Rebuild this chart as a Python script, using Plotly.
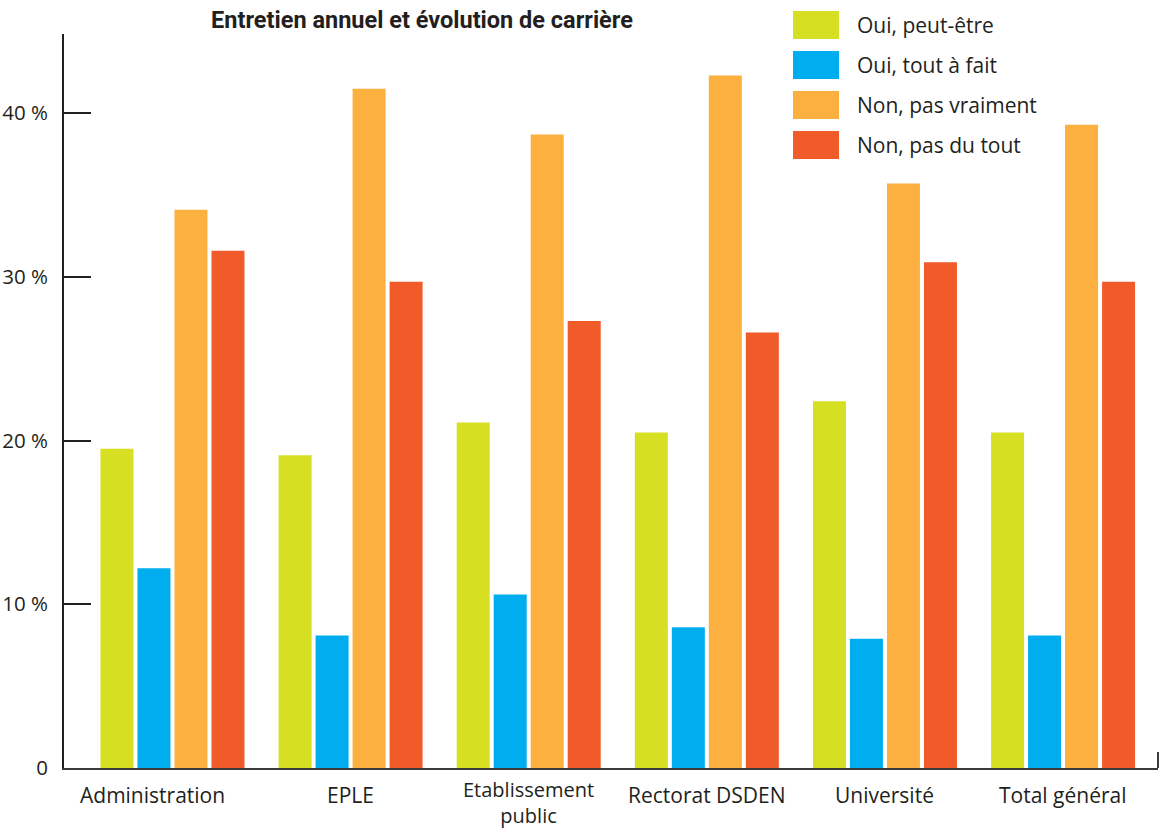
import plotly.graph_objects as go

# Survey answers by employer type (percent of respondents)
categories = ["Administration", "EPLE", "Etablissement public",
              "Rectorat DSDEN", "Université", "Total général"]
category_labels = ["Administration", "EPLE", "Etablissement<br>public",
                   "Rectorat DSDEN", "Université", "Total général"]

series_names = ["Oui, peut-être", "Oui, tout à fait",
                "Non, pas vraiment", "Non, pas du tout"]
oui_peut_etre = [19.5, 19.1, 21.1, 20.5, 22.4, 20.5]
oui_tout_a_fait = [12.2, 8.1, 10.6, 8.6, 7.9, 8.1]
non_pas_vraiment = [34.1, 41.5, 38.7, 42.3, 35.7, 39.3]
non_pas_du_tout = [31.6, 29.7, 27.3, 26.6, 30.9, 29.7]

y_tick_values = [0, 10, 20, 30, 40]
y_tick_labels = ["0", "10 %", "20 %", "30 %", "40 %"]

title_text = "Entretien annuel et évolution de carrière"

colors = ["#D7DF23", "#00AEEF", "#FBB040", "#F15A29"]
ink = "#231F20"
font_family = "Open Sans"

W, H = 1168, 829
M_L, M_R, M_T, M_B = 64, 10, 34, 61
PW, PH = W - M_L - M_R, H - M_T - M_B


def px_x(px):
    return (px - M_L) / PW


def px_y(py):
    return (H - M_B - py) / PH


fig = go.Figure()
for name, vals, col in zip(series_names,
                           [oui_peut_etre, oui_tout_a_fait,
                            non_pas_vraiment, non_pas_du_tout],
                           colors):
    fig.add_trace(go.Bar(x=categories, y=vals, name=name,
                         marker=dict(color=col, line=dict(width=0)),
                         showlegend=False))

annotations = []
shapes = []

# Category labels under the axis
label_shift = {"Administration": -20}
for cat, lab in zip(categories, category_labels):
    two_lines = "<br>" in lab
    annotations.append(dict(
        x=cat, xref="x", y=0, yref="paper",
        text=lab, showarrow=False,
        xanchor="center", yanchor="middle",
        xshift=label_shift.get(cat, 0),
        yshift=-34 if two_lines else -27,
        font=dict(family=font_family, size=20 if two_lines else 21,
                  color=ink)))

# Legend: large colour swatches with labels, top right
for k, (name, col) in enumerate(zip(series_names, colors)):
    top = 11 + 40 * k
    shapes.append(dict(type="rect", xref="paper", yref="paper",
                       x0=px_x(793), x1=px_x(839),
                       y0=px_y(top + 28), y1=px_y(top),
                       fillcolor=col, line=dict(width=0)))
    annotations.append(dict(
        x=px_x(855), xref="paper", y=px_y(top + 14), yref="paper",
        text=name, showarrow=False, xanchor="left", yanchor="middle",
        font=dict(family=font_family, size=21, color=ink)))

# Small end tick at the right of the category axis
shapes.append(dict(type="line", xref="paper", yref="paper",
                   x0=1, x1=1, y0=0, y1=px_y(752),
                   line=dict(color="#3C3C3C", width=2)))

fig.update_layout(
    width=W, height=H,
    margin=dict(l=M_L, r=M_R, t=M_T, b=M_B, pad=0, autoexpand=False),
    paper_bgcolor="white", plot_bgcolor="white",
    barmode="group", bargap=0.169, bargroupgap=0.108,
    title=dict(text=title_text, x=422 / W, xref="container",
               xanchor="center", y=1 - 20 / H, yref="container",
               yanchor="middle",
               font=dict(family="Roboto", size=23.5, color=ink,
                         weight="bold")),
    xaxis=dict(type="category", range=[-0.609, 5.533],
               showticklabels=False, ticks="", showgrid=False,
               showline=True, linecolor="#3C3C3C", linewidth=2,
               zeroline=False, fixedrange=True, automargin=False),
    yaxis=dict(range=[0, 44.84], tickvals=y_tick_values,
               ticktext=y_tick_labels, ticks="inside", ticklen=27,
               tickwidth=2, tickcolor=ink, showgrid=False,
               showline=True, linecolor=ink, linewidth=2,
               zeroline=False, ticklabelstandoff=10, automargin=False,
               tickfont=dict(family=font_family, size=20.5, color=ink),
               fixedrange=True),
    annotations=annotations,
    shapes=shapes,
    showlegend=False,
)

fig.write_html("out.html", config={"displayModeBar": False})
